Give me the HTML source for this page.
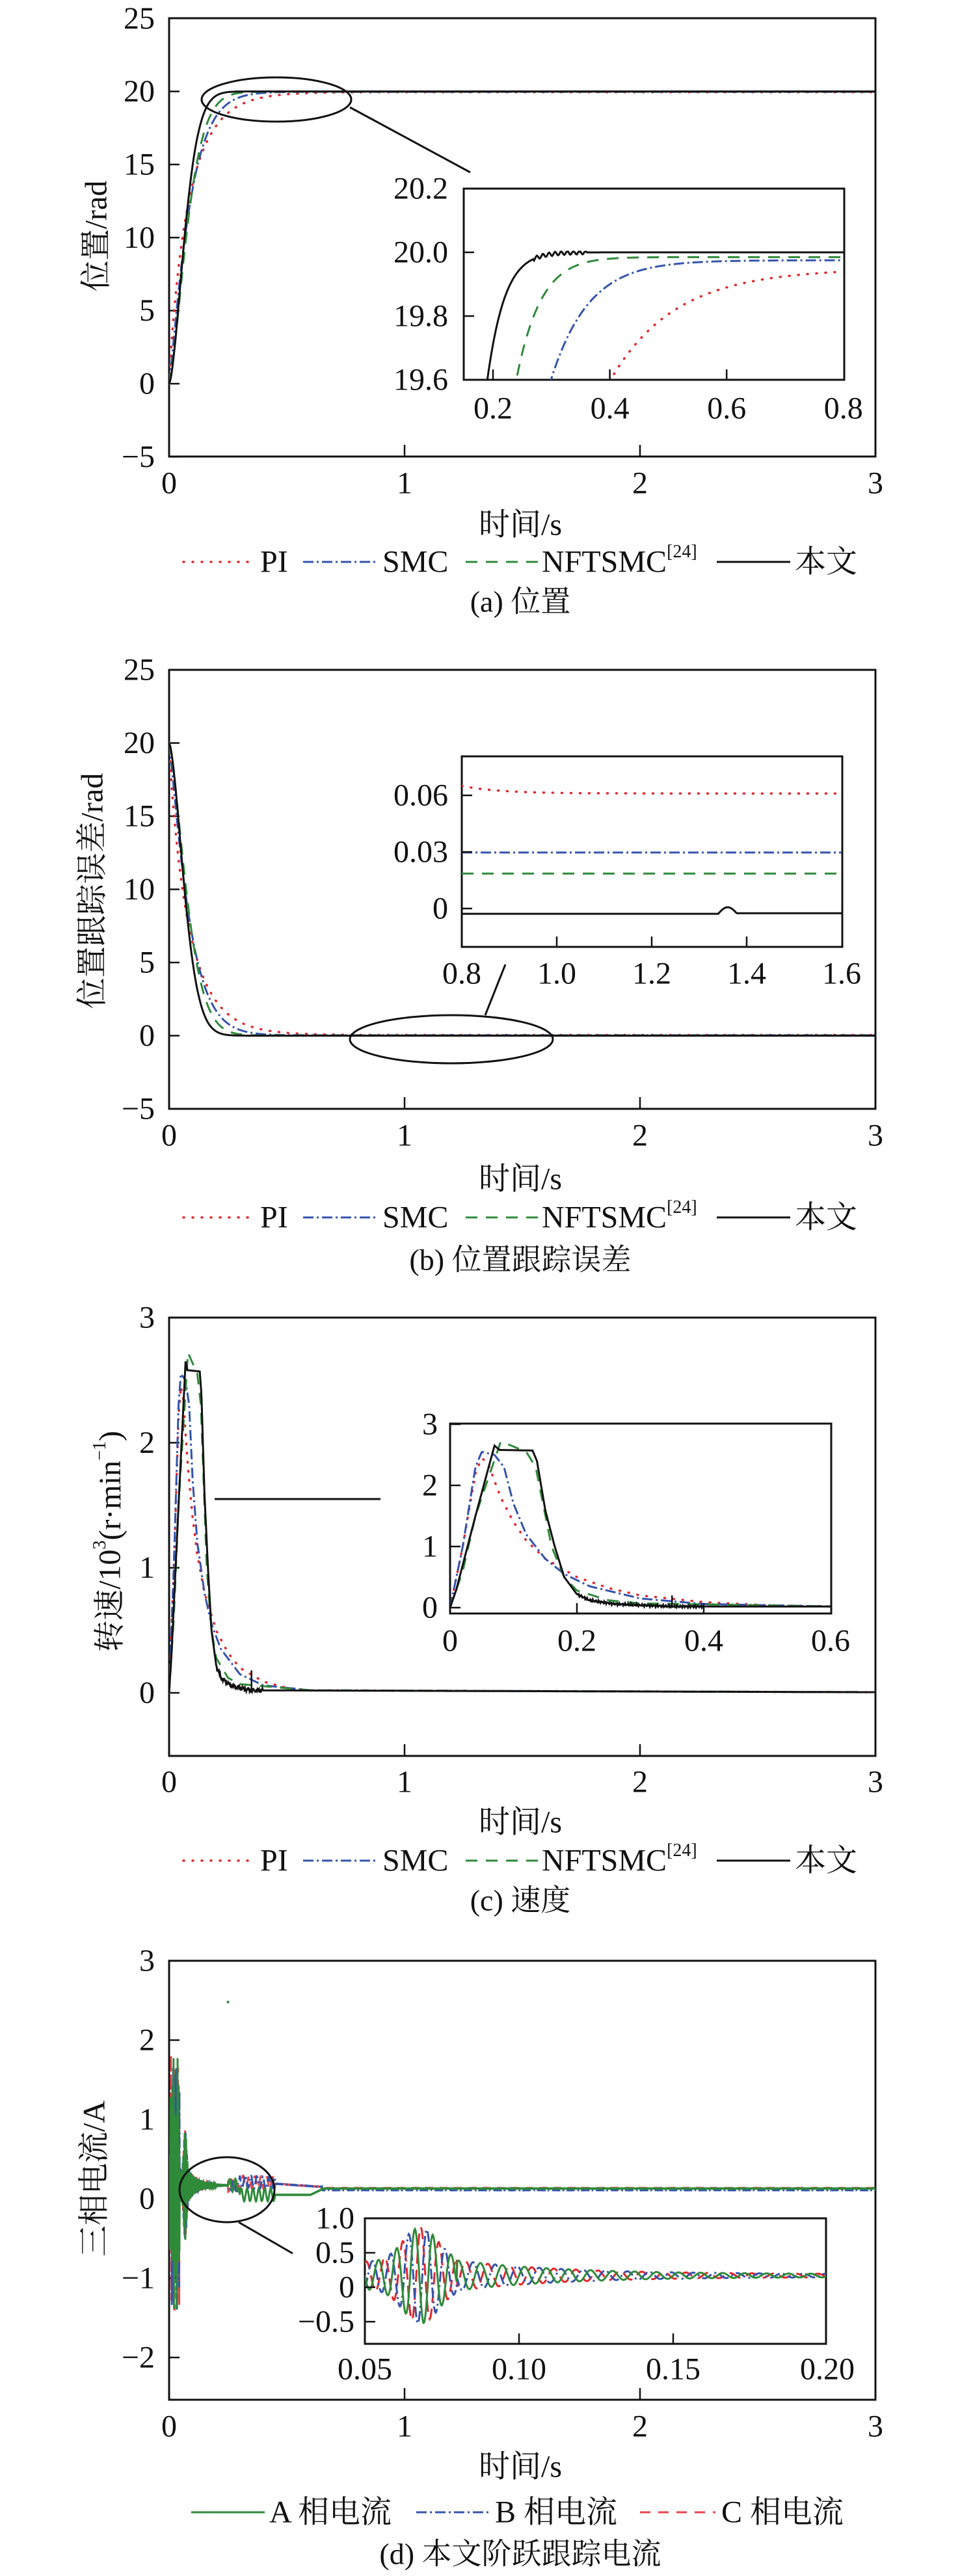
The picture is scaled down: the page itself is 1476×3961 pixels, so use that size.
<!DOCTYPE html>
<html><head><meta charset="utf-8"><style>
html,body{margin:0;padding:0;background:#fff;}
svg{display:block;font-family:"Liberation Serif","Noto Serif CJK SC","DejaVu Serif",serif;}
text{font-family:"Liberation Serif","Noto Serif CJK SC","DejaVu Serif",serif;fill:#111;}
</style></head><body>
<svg id="s" xmlns="http://www.w3.org/2000/svg" width="1476" height="3961" viewBox="0 0 1476 3961"></svg>
<script>
const S=document.getElementById('s');
let out='';
const FF='font-family="Liberation Serif, Noto Serif CJK SC, DejaVu Serif, serif"';
const C={r:'#e3262b',b:'#3453ad',g:'#2f8a3a',k:'#111'};
const ST={
 r:`stroke="${C.r}" stroke-width="3.5" stroke-dasharray="1 13" stroke-linecap="round"`,
 b:`stroke="${C.b}" stroke-width="3" stroke-dasharray="16 5 3 5"`,
 g:`stroke="${C.g}" stroke-width="3" stroke-dasharray="18 13"`,
 k:`stroke="${C.k}" stroke-width="3"`,
 gs:`stroke="${C.g}" stroke-width="3"`,
 rd:`stroke="${C.r}" stroke-width="3" stroke-dasharray="16 12" opacity="0.85"`
};
function path(pts,st,clip){let d='';pts.forEach((p,i)=>{d+=(i?'L':'M')+p[0].toFixed(1)+' '+p[1].toFixed(1);});out+=`<path d="${d}" fill="none" ${st} ${clip?`clip-path="url(#${clip})"`:''}/>`;}
function txt(x,y,s,anchor,size,extra){out+=`<text ${FF} x="${x}" y="${y}" font-size="${size||48}" text-anchor="${anchor||'middle'}" dominant-baseline="central" ${extra||''}>${s}</text>`;}
function line(x1,y1,x2,y2,w){out+=`<line x1="${x1}" y1="${y1}" x2="${x2}" y2="${y2}" stroke="#111" stroke-width="${w||3}"/>`;}
let defs='';let cid=0;
function clip(x1,y1,x2,y2){cid++;defs+=`<clipPath id="c${cid}"><rect x="${x1}" y="${y1}" width="${x2-x1}" height="${y2-y1}"/></clipPath>`;return 'c'+cid;}
function sample(f,t0,t1,n,X,Y){const a=[];for(let i=0;i<=n;i++){const t=t0+(t1-t0)*i/n;a.push([X(t),Y(f(t))]);}return a;}
function pw(P){return t=>{if(t<=P[0][0])return P[0][1];for(let i=1;i<P.length;i++){if(t<=P[i][0]){const u=(t-P[i-1][0])/(P[i][0]-P[i-1][0]);return P[i-1][1]+u*(P[i][1]-P[i-1][1]);}}return P[P.length-1][1];};}
const L=260,R=1346;const MX=t=>L+362*t;
function frame(top,bot,yt,Yf,xlY,xlabY,legY,capY,cap,ylab,ylx,yly,legend){
 out+=`<rect x="${L}" y="${top}" width="${R-L}" height="${bot-top}" fill="none" stroke="#111" stroke-width="3"/>`;
 [1,2].forEach(t=>line(MX(t),bot,MX(t),bot-18,2.5));
 yt.forEach(v=>{const y=Yf(v);line(L,y,L+16,y,2.5);txt(238,y,String(v).replace('-','−'),'end');});
 [0,1,2,3].forEach(t=>txt(MX(t),xlY,t));
 txt(800,xlabY,'时间/s','middle',48);
 out+=`<text ${FF} transform="translate(${ylx},${yly}) rotate(-90)" x="0" y="0" font-size="48" text-anchor="middle" dominant-baseline="central">${ylab}</text>`;
 legend(legY);
 txt(800,capY,cap,'middle',46);
}
function leg4(y){
 out+=`<line x1="282" y1="${y}" x2="394" y2="${y}" ${ST.r}/>`;txt(400,y,'PI','start',48);
 out+=`<line x1="466" y1="${y}" x2="579" y2="${y}" ${ST.b}/>`;txt(588,y,'SMC','start',48);
 out+=`<line x1="716" y1="${y}" x2="829" y2="${y}" ${ST.g}/>`;
 out+=`<text ${FF} x="833" y="${y}" font-size="48" dominant-baseline="central">NFTSMC<tspan font-size="28" dy="-16">[24]</tspan></text>`;
 out+=`<line x1="1102" y1="${y}" x2="1215" y2="${y}" ${ST.k}/>`;txt(1222,y,'本文','start',48);
}
const W=(F,c,n)=>t=>t<=0?0:F*(1-Math.exp(-Math.pow(t/c,n)));
const pk=W(20,0.082,1.62),pg=W(19.985,0.093,1.45),pb=W(19.975,0.092,1.17),pr=W(19.95,0.085,0.9);
// ===== (a)
{const Y=v=>590-22.47*v;
 frame(28,702,[25,20,15,10,5,0,-5],Y,743,807,864,925,'(a) 位置','位置/rad',148,363,leg4);
 const cl=clip(L,28,R,702);
 path(sample(pr,0,3,600,MX,Y),ST.r,cl);path(sample(pb,0,3,600,MX,Y),ST.b,cl);path(sample(pg,0,3,600,MX,Y),ST.g,cl);path(sample(pk,0,3,600,MX,Y),ST.k,cl);
 out+=`<ellipse cx="425" cy="153" rx="115" ry="34" fill="none" stroke="#111" stroke-width="3"/>`;line(538,165,723,265);
 const x1=713,x2=1298,y1=290,y2=584;const IX=t=>758+898*(t-0.2),IY=v=>388-490*(v-20);
 out+=`<rect x="${x1}" y="${y1}" width="${x2-x1}" height="${y2-y1}" fill="#fff" stroke="#111" stroke-width="3"/>`;
 const c2=clip(x1,y1,x2,y2);
 path(sample(pr,0.15,0.8,300,IX,IY),ST.r,c2);path(sample(pb,0.15,0.8,300,IX,IY),ST.b,c2);path(sample(pg,0.15,0.8,300,IX,IY),ST.g,c2);
 path(sample(t=>{let v=pk(t);if(t>0.27&&t<0.36)v+=0.006*Math.sin(t*600);return Math.min(v,20.002);},0.15,0.8,400,IX,IY),ST.k,c2);
 [20.2,20.0,19.8,19.6].forEach(v=>{const y=IY(v);line(x1,y,x1+16,y,2.5);txt(689,y,v.toFixed(1),'end');});
 [0.2,0.4,0.6].forEach(t=>line(IX(t),y2,IX(t),y2-16,2.5));
 [0.2,0.4,0.6,0.8].forEach(t=>txt(IX(t),628,t.toFixed(1)));
}
// ===== (b)
{const Y=v=>1592.5-22.5*v;
 frame(1030,1705,[25,20,15,10,5,0,-5],Y,1746,1813,1872,1937,'(b) 位置跟踪误差','位置跟踪误差/rad',142,1370,leg4);
 const cl=clip(L,1030,R,1705);
 const e=f=>t=>20-f(t);
 path(sample(e(pr),0,3,600,MX,Y),ST.r,cl);path(sample(e(pb),0,3,600,MX,Y),ST.b,cl);path(sample(e(pg),0,3,600,MX,Y),ST.g,cl);path(sample(e(pk),0,3,600,MX,Y),ST.k,cl);
 out+=`<ellipse cx="694" cy="1598" rx="156" ry="37" fill="none" stroke="#111" stroke-width="3"/>`;line(746,1561,777,1483);
 const x1=710,x2=1295,y1=1163,y2=1456;const IX=t=>710+730*(t-0.8),IY=v=>1397-2900*v;
 out+=`<rect x="${x1}" y="${y1}" width="${x2-x1}" height="${y2-y1}" fill="#fff" stroke="#111" stroke-width="3"/>`;
 const c2=clip(x1,y1,x2,y2);
 path(sample(t=>0.061+0.004*Math.exp(-(t-0.8)/0.08),0.8,1.6,100,IX,IY),ST.r,c2);
 path(sample(t=>0.0297,0.8,1.6,10,IX,IY),ST.b,c2);
 path(sample(t=>0.0185,0.8,1.6,10,IX,IY),ST.g,c2);
 path(sample(t=>{let v=-0.0028;if(t>1.34&&t<1.38)v+=0.0035*Math.sin((t-1.34)/0.04*Math.PI);if(t>=1.38)v=-0.0025;return v;},0.8,1.6,400,IX,IY),ST.k,c2);
 [[0.06,'0.06'],[0.03,'0.03'],[0,'0']].forEach(a=>{const y=IY(a[0]);line(x1,y,x1+16,y,2.5);txt(689,y,a[1],'end');});
 [1.0,1.2,1.4].forEach(t=>line(IX(t),y2,IX(t),y2-16,2.5));
 [0.8,1.0,1.2,1.4,1.6].forEach(t=>txt(IX(t),1497,t.toFixed(1)));
}
// ===== (c)
{const Y=v=>2603-192.3*v;
 frame(2026,2700,[3,2,1,0],Y,2740,2802,2861,2922,'(c) 速度','转速/10<tspan font-size="28" dy="-16">3</tspan><tspan dy="16">(r·min</tspan><tspan font-size="28" dy="-16">−1</tspan><tspan dy="16">)</tspan>',169,2370,leg4);
 const K=pw([[0,0],[0.01,0.3],[0.03,1.1],[0.04,1.5],[0.07,2.65],[0.078,2.58],[0.13,2.57],[0.137,2.4],[0.15,1.6],[0.165,1.0],[0.18,0.5],[0.2,0.22],[0.22,0.12],[0.26,0.06],[0.3,0.04],[0.35,0.02],[3,0.005]]);
 const G=pw([[0,0],[0.02,0.6],[0.04,1.5],[0.08,2.72],[0.12,2.55],[0.135,2.3],[0.16,1.0],[0.18,0.5],[0.2,0.28],[0.25,0.12],[0.3,0.07],[0.6,0.02],[3,0.005]]);
 const B=pw([[0,0],[0.02,1.0],[0.04,2.3],[0.05,2.55],[0.07,2.5],[0.085,2.3],[0.1,1.7],[0.12,1.2],[0.15,0.8],[0.18,0.55],[0.22,0.35],[0.3,0.15],[0.4,0.06],[0.6,0.02],[3,0.005]]);
 const Rr=pw([[0,0],[0.02,1.0],[0.04,2.2],[0.05,2.45],[0.06,2.35],[0.08,1.8],[0.1,1.4],[0.12,1.1],[0.15,0.8],[0.2,0.5],[0.25,0.32],[0.3,0.2],[0.4,0.09],[0.5,0.04],[0.6,0.02],[3,0.005]]);
 const cl=clip(L,2026,R,2700);
 const nz=(f,a)=>t=>f(t)+(t>0.2&&t<0.4?a*Math.sin(t*2100)*Math.sin(t*733):0);
 path(sample(Rr,0,3,1200,MX,Y),ST.r,cl);path(sample(B,0,3,1200,MX,Y),ST.b,cl);path(sample(G,0,3,1200,MX,Y),ST.g,cl);path(sample(nz(K,0.02),0,3,1500,MX,Y),ST.k,cl);
 line(MX(0.35),Y(0),MX(0.35),Y(0.18),2.5);
 line(330,2305,585,2305);
 const x1=692,x2=1278,y1=2189,y2=2481;const IX=t=>692+975*t,IY=v=>2472-94*v;
 out+=`<rect x="${x1}" y="${y1}" width="${x2-x1}" height="${y2-y1}" fill="#fff" stroke="#111" stroke-width="3"/>`;
 const c2=clip(x1,y1,x2,y2);
 path(sample(Rr,0,0.6,400,IX,IY),ST.r,c2);path(sample(B,0,0.6,400,IX,IY),ST.b,c2);path(sample(G,0,0.6,400,IX,IY),ST.g,c2);path(sample(nz(K,0.02),0,0.6,600,IX,IY),ST.k,c2);
 line(IX(0.35),IY(0),IX(0.35),IY(0.2),2.5);
 [3,2,1,0].forEach(v=>{const y=IY(v);line(x1,y,x1+16,y,2.5);txt(673,y,v,'end');});
 [0.2,0.4].forEach(t=>line(IX(t),y2,IX(t),y2-16,2.5));
 [[0,'0'],[0.2,'0.2'],[0.4,'0.4'],[0.6,'0.6']].forEach(a=>txt(IX(a[0]),2523,a[1]));
}
// ===== (d)
{const Y=v=>3381-122*v;
 frame(3015,3690,[3,2,1,0,-1,-2],Y,3731,3793,3863,3927,'(d) 本文阶跃跟踪电流','三相电流/A',145,3350,function(y){
  out+=`<line x1="294" y1="${y}" x2="407" y2="${y}" ${ST.gs}/>`;txt(414,y,'A 相电流','start',48);
  out+=`<line x1="640" y1="${y}" x2="753" y2="${y}" ${ST.b}/>`;txt(761,y,'B 相电流','start',48);
  out+=`<line x1="984" y1="${y}" x2="1100" y2="${y}" ${ST.rd}/>`;txt(1109,y,'C 相电流','start',48);
 });
 function cur(ph,kind){
  return t=>{
   let base;
   if(kind==0){base = t<0.3?0.17:(t<0.65?0.05+(t>0.6?(t-0.6)*1.4:0):0.13);}
   else base = t<0.3?0.17:(t<0.65?0.22-(t-0.3)*0.2:0.12+(kind==2?0.015:-0.01));
   let env,f;
   if(t<0.045){env=1.7*Math.min(1,t/0.008)*(0.75+0.25*Math.sin(t*400+ph));f=700;}
   else if(t<0.08){env=0.2+0.5*Math.exp(-Math.pow((t-0.068)/0.008,2));f=170;}
   else {env=0.2*Math.exp(-(t-0.08)/0.035)+(t<0.2?0.02:0.004);f=140;}
   let v=base+env*Math.sin(2*Math.PI*f*t+ph);
   if(t>0.25&&t<0.45) v+=0.08*Math.sin(2*Math.PI*40*t+ph);
   return v;
  };
 }
 const A=cur(0,0),Bc=cur(2.09,1),Cc=cur(4.19,2);
 const cl=clip(L,3015,R,3690);
 path(sample(Cc,0,3,3000,MX,Y),ST.rd,cl);path(sample(Bc,0,3,3000,MX,Y),ST.b,cl);path(sample(A,0,3,3000,MX,Y),ST.gs,cl);
 out+=`<circle cx="${MX(0.25)}" cy="${Y(2.48)}" r="2" fill="${C.g}"/>`;
 out+=`<ellipse cx="349" cy="3367" rx="73" ry="50" fill="none" stroke="#111" stroke-width="3"/>`;line(367,3417,450,3465);
 const x1=561,x2=1270,y1=3411,y2=3604;const IX=t=>561+4740*(t-0.05),IY=v=>3517-106*v;
 out+=`<rect x="${x1}" y="${y1}" width="${x2-x1}" height="${y2-y1}" fill="#fff" stroke="#111" stroke-width="3"/>`;
 const c2=clip(x1,y1,x2,y2);
 path(sample(Cc,0.05,0.2,600,IX,IY),ST.r.replace('1 13','16 12').replace('3.5','3'),c2);path(sample(Bc,0.05,0.2,600,IX,IY),ST.b,c2);path(sample(A,0.05,0.2,600,IX,IY),ST.gs,c2);
 [[1.0,'1.0'],[0.5,'0.5'],[0,'0'],[-0.5,'−0.5']].forEach(a=>{const y=IY(a[0]);if(a[0]<1)line(x1,y,x1+16,y,2.5);txt(545,y,a[1],'end');});
 [0.10,0.15].forEach(t=>line(IX(t),y2,IX(t),y2-16,2.5));
 [0.05,0.10,0.15,0.20].forEach(t=>txt(IX(t),3643,t.toFixed(2)));
}
S.innerHTML='<defs>'+defs+'</defs>'+out;
</script>
</body></html>
